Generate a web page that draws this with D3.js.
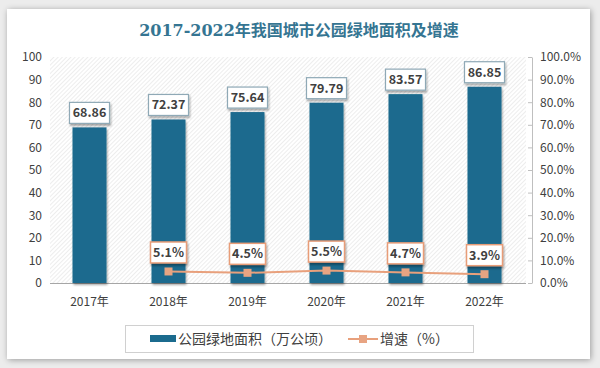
<!DOCTYPE html>
<html><head><meta charset="utf-8">
<script src="https://cdn.jsdelivr.net/npm/d3@7"></script>
<style>
html,body{margin:0;padding:0;background:#ececec;}
svg{display:block;}
</style></head>
<body>
<svg id="chart" width="600" height="368"></svg>
<script>
const years = ["2017年","2018年","2019年","2020年","2021年","2022年"];
const area = [68.86, 72.37, 75.64, 79.79, 83.57, 86.85];
const growth = [null, 5.1, 4.5, 5.5, 4.7, 3.9];
const leftTicks = [0,10,20,30,40,50,60,70,80,90,100];
const rightTicks = [0,10,20,30,40,50,60,70,80,90,100];
const title = "2017-2022年我国城市公园绿地面积及增速";
const legendBar = "公园绿地面积（万公顷）";
const legendLine = "增速（%）";

const svg = d3.select("#chart");
const font = "'Noto Sans CJK SC','Noto Sans',sans-serif";

const defs = svg.append("defs");
const sh = defs.append("filter").attr("id","cardShadow").attr("x","-5%").attr("y","-5%").attr("width","110%").attr("height","110%");
sh.append("feGaussianBlur").attr("in","SourceAlpha").attr("stdDeviation",3);
sh.append("feOffset").attr("dx",1).attr("dy",1).attr("result","b");
sh.append("feComponentTransfer").append("feFuncA").attr("type","linear").attr("slope",0.35);
const m = sh.append("feMerge"); m.append("feMergeNode"); m.append("feMergeNode").attr("in","SourceGraphic");

const bs = defs.append("filter").attr("id","boxShadow").attr("x","-20%").attr("y","-20%").attr("width","150%").attr("height","160%");
bs.append("feGaussianBlur").attr("in","SourceAlpha").attr("stdDeviation",1.2);
bs.append("feOffset").attr("dx",1).attr("dy",1.5);
bs.append("feComponentTransfer").append("feFuncA").attr("type","linear").attr("slope",0.35);
const m2 = bs.append("feMerge"); m2.append("feMergeNode"); m2.append("feMergeNode").attr("in","SourceGraphic");

const pat = defs.append("pattern").attr("id","hatch").attr("patternUnits","userSpaceOnUse")
  .attr("width",3).attr("height",3).attr("patternTransform","rotate(45)");
pat.append("rect").attr("width",3).attr("height",3).attr("fill","#ffffff");
pat.append("line").attr("x1",0).attr("y1",0).attr("x2",0).attr("y2",3).attr("stroke","#dcdcdc").attr("stroke-width",1);

// card
svg.append("rect").attr("x",7).attr("y",9).attr("width",583).attr("height",350)
  .attr("fill","#ffffff").attr("filter","url(#cardShadow)");

// title
svg.append("text").attr("x",299).attr("y",36).attr("text-anchor","middle")
  .attr("font-family","'DejaVu Serif','Noto Sans CJK SC',serif").attr("font-weight","bold")
  .attr("font-size",16).attr("fill","#357592").text(title);

const x = d3.scaleBand().domain(years).range([50,524]).paddingInner(0.57).paddingOuter(0.285);
const y = d3.scaleLinear().domain([0,100]).range([283,57]);
const y2 = d3.scaleLinear().domain([0,100]).range([283,57]);

// plot bg
svg.append("rect").attr("x",50).attr("y",y(100)).attr("width",476).attr("height",y(0)-y(100)).attr("fill","url(#hatch)");

// left axis
const la = svg.append("g").attr("transform","translate(48,0)")
  .call(d3.axisLeft(y).tickValues(leftTicks).tickSize(0).tickPadding(6));
la.select(".domain").remove();
la.selectAll("text").attr("font-family",font).attr("font-size",12).attr("fill","#404040");

// right axis
const ra = svg.append("g").attr("transform","translate(532,0)")
  .call(d3.axisRight(y2).tickValues(rightTicks).tickSizeInner(-4).tickSizeOuter(0).tickPadding(8).tickFormat(d=>d.toFixed(1)+"%"));
ra.select(".domain").attr("stroke","#bfbfbf");
ra.selectAll(".tick line").attr("stroke","#bfbfbf");
ra.selectAll("text").attr("font-family",font).attr("font-size",12).attr("fill","#404040");

// bottom axis
const ba = svg.append("g").attr("transform",`translate(0,${y(0)})`)
  .call(d3.axisBottom(x).tickSize(0).tickPadding(14));
ba.select(".domain").attr("stroke","#a6a6a6").attr("d","M50,0.5H526");
ba.selectAll("text").attr("font-family",font).attr("font-size",12).attr("fill","#404040");

// bars
svg.append("g").selectAll("rect").data(area).join("rect")
  .attr("x",(d,i)=>x(years[i])).attr("y",d=>y(d))
  .attr("width",x.bandwidth()).attr("height",d=>y(0)-y(d))
  .attr("fill","#1b6b8e").attr("filter","url(#boxShadow)");

// bar labels
const bl = svg.append("g").selectAll("g").data(area).join("g")
  .attr("transform",(d,i)=>`translate(${x(years[i])+x.bandwidth()/2},${y(d)-14.5})`);
bl.append("rect").attr("x",-20).attr("y",-10.5).attr("width",40).attr("height",21)
  .attr("fill","#fff").attr("stroke","#8fa9b6").attr("stroke-width",1.2).attr("filter","url(#boxShadow)");
bl.append("text").attr("text-anchor","middle").attr("dy","0.35em")
  .attr("font-family",font).attr("font-weight","bold").attr("font-size",12.5).attr("fill","#404040")
  .text(d=>d.toFixed(2));

// line
const pts = growth.map((g,i)=>({g,i})).filter(d=>d.g!==null);
const line = d3.line().x(d=>x(years[d.i])+x.bandwidth()/2).y(d=>y2(d.g));
svg.append("path").datum(pts).attr("d",line).attr("fill","none").attr("stroke","#e8a07c").attr("stroke-width",2);
svg.append("g").selectAll("rect").data(pts).join("rect")
  .attr("x",d=>x(years[d.i])+x.bandwidth()/2-4).attr("y",d=>y2(d.g)-4)
  .attr("width",8).attr("height",8).attr("fill","#e8a482");

// growth labels
const gl = svg.append("g").selectAll("g").data(pts).join("g")
  .attr("transform",d=>`translate(${x(years[d.i])+x.bandwidth()/2},${y2(d.g)-19})`);
gl.append("rect").attr("x",-18).attr("y",-10.5).attr("width",36).attr("height",21)
  .attr("fill","#fff").attr("stroke","#e89d78").attr("stroke-width",1.5).attr("filter","url(#boxShadow)");
gl.append("text").attr("text-anchor","middle").attr("dy","0.35em")
  .attr("font-family",font).attr("font-weight","bold").attr("font-size",12.5).attr("fill","#404040")
  .text(d=>d.g.toFixed(1)+"%");

// legend
const lg = svg.append("g");
lg.append("rect").attr("x",125.5).attr("y",325.5).attr("width",348).attr("height",27).attr("fill","#fff").attr("stroke","#d0d0d0");
lg.append("rect").attr("x",150).attr("y",335).attr("width",26).attr("height",7).attr("fill","#1b6b8e");
lg.append("text").attr("x",178).attr("y",339).attr("dy","0.35em").attr("font-family",font).attr("font-size",14).attr("fill","#404040").text(legendBar);
lg.append("line").attr("x1",348).attr("x2",378).attr("y1",339).attr("y2",339).attr("stroke","#e8a07c").attr("stroke-width",2);
lg.append("rect").attr("x",359).attr("y",335).attr("width",8).attr("height",8).attr("fill","#e8a482");
lg.append("text").attr("x",380).attr("y",339).attr("dy","0.35em").attr("font-family",font).attr("font-size",14).attr("fill","#404040").text(legendLine);
</script>
</body></html>
